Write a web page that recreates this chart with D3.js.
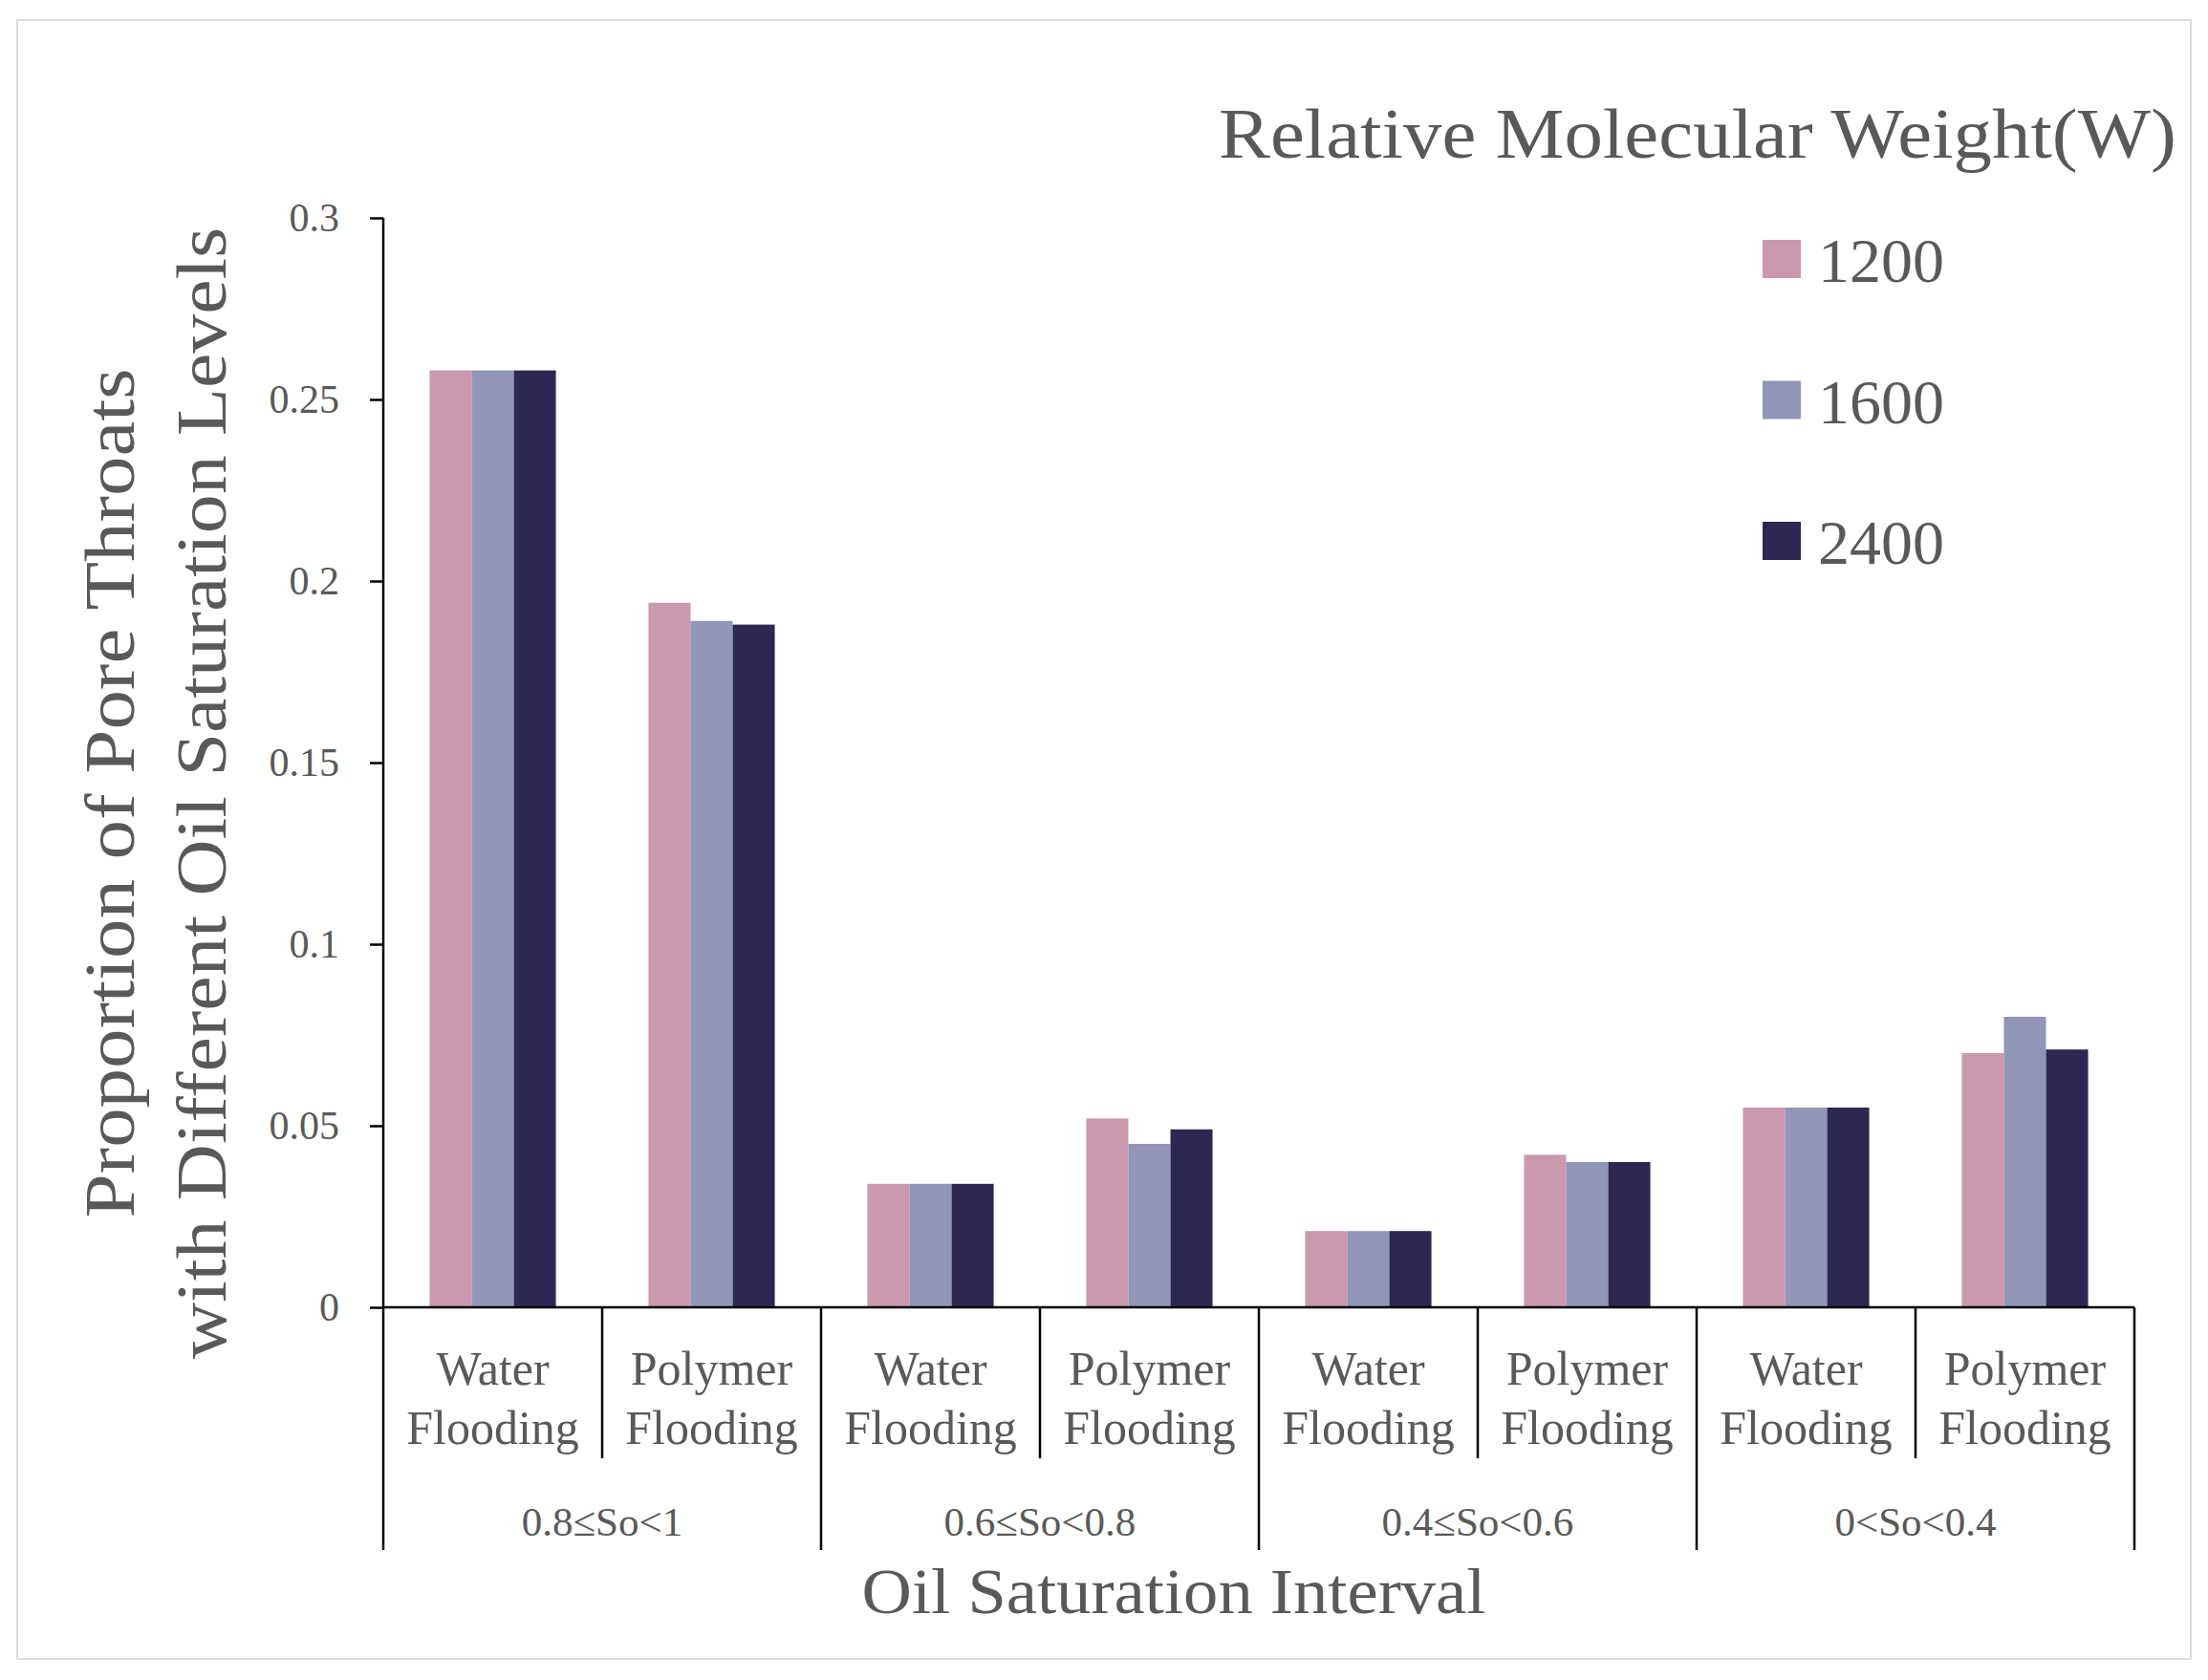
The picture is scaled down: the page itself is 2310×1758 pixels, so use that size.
<!DOCTYPE html>
<html>
<head>
<meta charset="utf-8">
<script src="https://cdn.jsdelivr.net/npm/d3@7"></script>
<style>
  body { margin: 0; background: #fff; }
  text { font-family: "Palatino Linotype", "Book Antiqua", Palatino, "Liberation Serif", serif; fill: #595959; }
</style>
</head>
<body>
<svg id="chart"></svg>
<script>
// data
var groups = ["0.8≤So<1", "0.6≤So<0.8", "0.4≤So<0.6", "0<So<0.4"];
var methods = ["Water", "Polymer"];
var seriesNames = ["1200", "1600", "2400"];
var colors = ["#cb99ae", "#9195b7", "#2c2852"];
var w1200 = [0.258, 0.194, 0.034, 0.052, 0.021, 0.042, 0.055, 0.070];
var w1600 = [0.258, 0.189, 0.034, 0.045, 0.021, 0.040, 0.055, 0.080];
var w2400 = [0.258, 0.188, 0.034, 0.049, 0.021, 0.040, 0.055, 0.071];
var yTicks = [0, 0.05, 0.1, 0.15, 0.2, 0.25, 0.3];
var yTickLabels = ["0", "0.05", "0.1", "0.15", "0.2", "0.25", "0.3"];

var W = 2310, H = 1758;
var margin = {top: 228, left: 401, right: 77, bottom: 390};
var width = W - margin.left - margin.right,
    height = H - margin.top - margin.bottom;

var svg = d3.select("#chart").attr("width", W).attr("height", H);

// thin frame round the picture
svg.append("rect")
    .attr("x", 18).attr("y", 21)
    .attr("width", 2274).attr("height", 1715)
    .attr("fill", "none").attr("stroke", "#dcdcdc").attr("stroke-width", 2);

var g = svg.append("g").attr("transform", "translate(" + margin.left + "," + margin.top + ")");

// categories: group x method
var cats = [];
groups.forEach(function(gr, gi){
  methods.forEach(function(m, mi){ cats.push({group: gr, method: m, idx: gi*2 + mi}); });
});

var x0 = d3.scaleBand().domain(d3.range(cats.length)).range([0, width]);
var x1 = d3.scaleBand().domain(seriesNames).range([0, x0.bandwidth()]).paddingOuter(1.1);
var y = d3.scaleLinear().domain([0, 0.3]).range([height, 0]);

var seriesVals = [w1200, w1600, w2400];

// bars
seriesNames.forEach(function(s, si){
  g.append("g").selectAll("rect")
    .data(seriesVals[si])
    .enter().append("rect")
      .attr("x", function(d, i){ return x0(i) + x1(s); })
      .attr("y", function(d){ return y(d); })
      .attr("width", x1.bandwidth())
      .attr("height", function(d){ return height - y(d); })
      .attr("fill", colors[si]);
});

// y axis
var yAxis = g.append("g")
    .call(d3.axisLeft(y).tickValues(yTicks)
      .tickFormat(function(d, i){ return yTickLabels[i]; })
      .tickSize(14).tickPadding(32));
yAxis.select(".domain").remove();
yAxis.selectAll(".tick line").attr("stroke", "#000").attr("stroke-width", 2.5);
yAxis.selectAll(".tick text")
    .attr("font-size", "42px")
    .attr("font-family", "'Palatino Linotype', 'Liberation Serif', serif")
    .attr("fill", "#595959");

// vertical axis line, running down through the category table
g.append("line")
    .attr("x1", 0).attr("x2", 0)
    .attr("y1", 0).attr("y2", 1622 - margin.top)
    .attr("stroke", "#000").attr("stroke-width", 2.5);

// x baseline
g.append("line")
    .attr("x1", 0).attr("x2", width)
    .attr("y1", height).attr("y2", height)
    .attr("stroke", "#000").attr("stroke-width", 2.5);

// separators
d3.range(1, cats.length + 1).forEach(function(i){
  var xx = i < cats.length ? x0(i) : width;
  var long_ = i % 2 == 0;
  g.append("line")
      .attr("x1", xx).attr("x2", xx)
      .attr("y1", height)
      .attr("y2", (long_ ? 1622 : 1526) - margin.top)
      .attr("stroke", "#000").attr("stroke-width", 2.5);
});

// method labels
cats.forEach(function(c){
  var cx = x0(c.idx) + x0.bandwidth()/2;
  var t = g.append("text")
      .attr("text-anchor", "middle")
      .attr("font-size", "50px")
      .attr("x", cx)
      .attr("y", 1449 - margin.top);
  t.append("tspan").attr("x", cx).text(c.method);
  t.append("tspan").attr("x", cx).attr("dy", 62).text("Flooding");
});

// group labels
groups.forEach(function(gr, gi){
  g.append("text")
      .attr("text-anchor", "middle")
      .attr("font-size", "43px")
      .attr("x", x0(gi*2) + x0.bandwidth())
      .attr("y", 1607 - margin.top)
      .text(gr);
});

// x title
svg.append("text")
    .attr("text-anchor", "middle")
    .attr("font-size", "68px")
    .attr("x", 1228).attr("y", 1688)
    .attr("textLength", 653).attr("lengthAdjust", "spacingAndGlyphs")
    .text("Oil Saturation Interval");

// y title, two lines
var yt = svg.append("text")
    .attr("text-anchor", "middle")
    .attr("font-size", "74px")
    .attr("transform", "translate(140,830) rotate(-90)");
yt.append("tspan").attr("x", 0).attr("y", 0)
    .attr("textLength", 889).attr("lengthAdjust", "spacingAndGlyphs")
    .text("Proportion of Pore Throats");
yt.append("tspan").attr("x", 0).attr("y", 96)
    .attr("textLength", 1184).attr("lengthAdjust", "spacingAndGlyphs")
    .text("with Different Oil Saturation Levels");

// legend
svg.append("text")
    .attr("text-anchor", "end")
    .attr("font-size", "74px")
    .attr("x", 2277).attr("y", 165)
    .attr("textLength", 1002).attr("lengthAdjust", "spacingAndGlyphs")
    .text("Relative Molecular Weight(W)");

var legend = svg.append("g").selectAll("g")
    .data(seriesNames)
    .enter().append("g")
      .attr("transform", function(d, i){ return "translate(1844," + (271 + i*147.5) + ")"; });

legend.append("rect")
    .attr("x", 0).attr("y", -20)
    .attr("width", 40).attr("height", 40)
    .attr("fill", function(d, i){ return colors[i]; });

legend.append("text")
    .attr("x", 58).attr("y", 24)
    .attr("font-size", "66px")
    .text(function(d){ return d; });
</script>
</body>
</html>
